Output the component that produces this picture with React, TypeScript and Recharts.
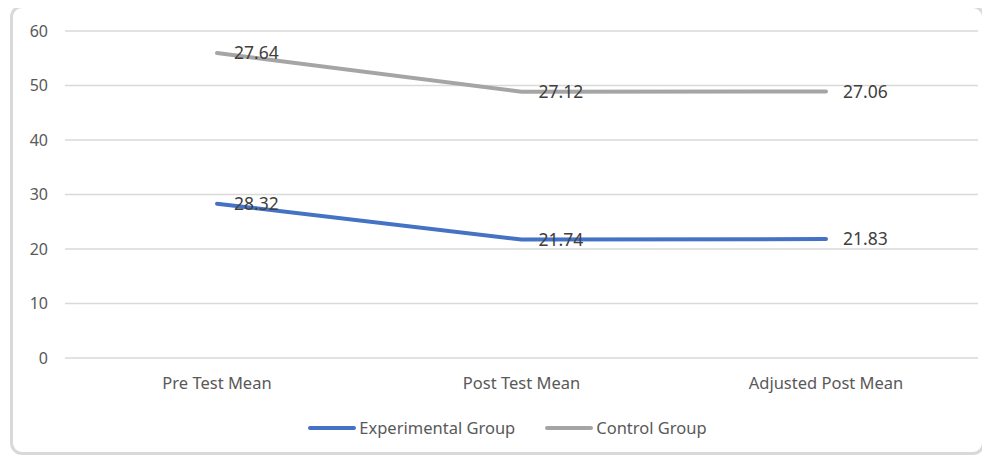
import { LineChart, Line, XAxis, YAxis, CartesianGrid, Legend, LabelList } from 'recharts';

const categories = ['Pre Test Mean', 'Post Test Mean', 'Adjusted Post Mean'];
const experimental = [28.32, 21.74, 21.83];
const control = [27.64, 27.12, 27.06];
const yTicks = [0, 10, 20, 30, 40, 50, 60];

const BLUE = '#4472C4';
const GRAY = '#A5A5A5';
const FONT = '"Noto Sans", sans-serif';

// stacked line chart: control sits on top of experimental
const data = categories.map((name, i) => ({
  name,
  exp: experimental[i],
  ctrl: control[i],
  ctrlStack: +(experimental[i] + control[i]).toFixed(2),
}));

function LegendContent() {
  const items = [
    { label: 'Experimental Group', color: BLUE },
    { label: 'Control Group', color: GRAY },
  ];
  return (
    <div style={{ display: 'flex', justifyContent: 'center', gap: 30, paddingLeft: 24, fontFamily: FONT, fontSize: 16.5, color: '#595959' }}>
      {items.map((it) => (
        <div key={it.label} style={{ display: 'flex', alignItems: 'center' }}>
          <svg width={48} height={10} style={{ marginRight: 3 }}>
            <line x1={2} y1={5} x2={46} y2={5} stroke={it.color} strokeWidth={4} strokeLinecap="round" />
          </svg>
          <span>{it.label}</span>
        </div>
      ))}
    </div>
  );
}

export default function App() {
  return (
    <div
      style={{
        position: 'relative',
        left: 2,
        top: -3,
        width: 975,
        height: 450,
        boxSizing: 'border-box',
        border: '3px solid #d9d9d9',
        borderRadius: 12,
        background: '#fff',
      }}
    >
      <LineChart width={969} height={444} data={data} margin={{ top: 23, right: 4, left: 0, bottom: 12 }}>
        <CartesianGrid vertical={false} stroke="#d9d9d9" strokeWidth={1.5} />
        <XAxis
          dataKey="name"
          axisLine={false}
          tickLine={false}
          tickSize={0}
          tickMargin={19}
          height={58}
          padding={{ left: 152, right: 152 }}
          tick={{ fill: '#595959', fontSize: 16.5, fontFamily: FONT }}
        />
        <YAxis
          domain={[0, 60]}
          ticks={yTicks}
          width={52}
          axisLine={false}
          tickLine={false}
          tickSize={0}
          tickMargin={17}
          tick={{ fill: '#595959', fontSize: 16, fontFamily: FONT }}
        />
        <Legend verticalAlign="bottom" content={<LegendContent />} wrapperStyle={{ height: 24 }} />
        <Line
          dataKey="exp"
          name="Experimental Group"
          type="linear"
          stroke={BLUE}
          strokeWidth={4}
          strokeLinecap="round"
          dot={false}
          isAnimationActive={false}
        >
          <LabelList dataKey="exp" position="right" offset={17} fill="#404040" fontSize={17.5} fontFamily={FONT} />
        </Line>
        <Line
          dataKey="ctrlStack"
          name="Control Group"
          type="linear"
          stroke={GRAY}
          strokeWidth={4}
          strokeLinecap="round"
          dot={false}
          isAnimationActive={false}
        >
          <LabelList dataKey="ctrl" position="right" offset={17} fill="#404040" fontSize={17.5} fontFamily={FONT} />
        </Line>
      </LineChart>
    </div>
  );
}
